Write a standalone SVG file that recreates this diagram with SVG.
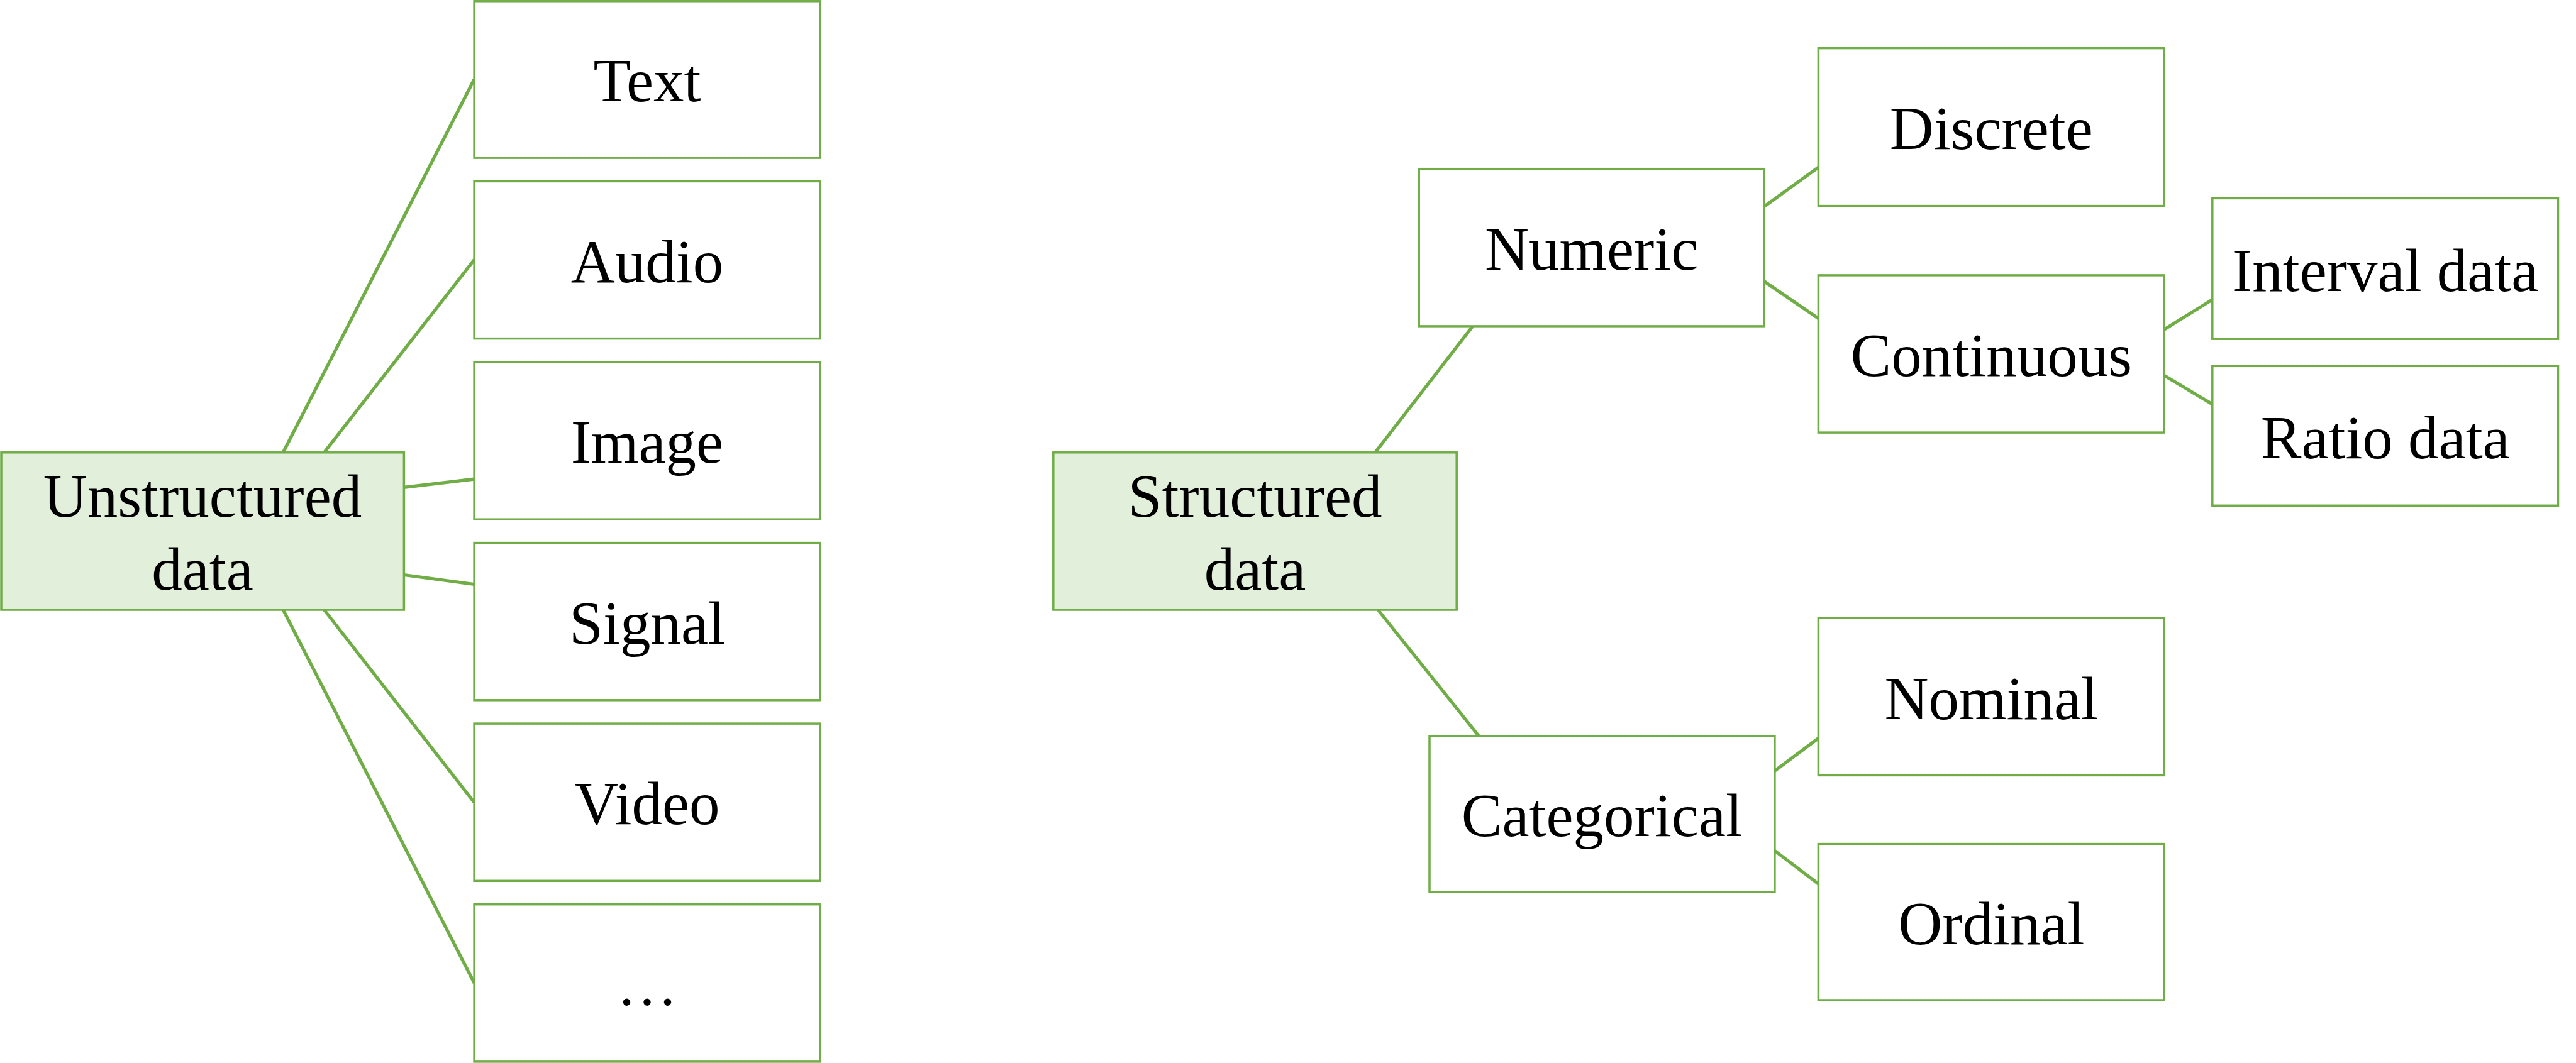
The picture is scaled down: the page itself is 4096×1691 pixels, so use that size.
<svg xmlns="http://www.w3.org/2000/svg" width="4096" height="1691" viewBox="0 0 4096 1691">
<style>
.box{fill:#FFFFFF;stroke:#70AD47;stroke-width:3.5}
.root{fill:#E2EFDA;stroke:#70AD47;stroke-width:3.5}
.lbl{font-family:"Liberation Serif","Times New Roman",serif;font-size:97px;fill:#000000;text-anchor:middle}
.conn line{stroke:#70AD47;stroke-width:5.2;stroke-linecap:butt}
</style>
<rect width="4096" height="1691" fill="#FFFFFF"/>
<g id="connectors" class="conn">
<line x1="450.2" y1="719.8" x2="754.1" y2="126.0"/>
<line x1="515.4" y1="719.8" x2="754.1" y2="413.2"/>
<line x1="642.2" y1="775.3" x2="754.1" y2="762.1"/>
<line x1="642.2" y1="914.5" x2="754.1" y2="929.5"/>
<line x1="515.4" y1="970.0" x2="754.1" y2="1276.6"/>
<line x1="450.2" y1="970.0" x2="754.1" y2="1563.8"/>
<line x1="2186.6" y1="719.8" x2="2341.7" y2="518.9"/>
<line x1="2191.0" y1="970.0" x2="2351.4" y2="1170.8"/>
<line x1="2805.1" y1="328.6" x2="2891.4" y2="266.1"/>
<line x1="2805.1" y1="447.5" x2="2891.4" y2="506.6"/>
<line x1="3441.2" y1="524.2" x2="3517.8" y2="476.6"/>
<line x1="3441.2" y1="597.3" x2="3517.8" y2="643.1"/>
<line x1="2821.8" y1="1226.4" x2="2891.4" y2="1174.4"/>
<line x1="2821.8" y1="1353.2" x2="2891.4" y2="1406.1"/>
</g>
<g id="unstructured">
<rect class="root" x="2" y="719.8" width="640.4" height="250.2"/>
<text class="lbl" x="322" y="822">Unstructured</text>
<text class="lbl" x="322" y="938.3">data</text>
</g>
<g id="text">
<rect class="box" x="754.1" y="1.8" width="549.7" height="249.3"/>
<text class="lbl" x="1029" y="161.2">Text</text>
</g>
<g id="audio">
<rect class="box" x="754.1" y="288.4" width="549.7" height="250.2"/>
<text class="lbl" x="1029" y="448.7">Audio</text>
</g>
<g id="image">
<rect class="box" x="754.1" y="576.0" width="549.7" height="250.2"/>
<text class="lbl" x="1029" y="736.3">Image</text>
</g>
<g id="signal">
<rect class="box" x="754.1" y="863.6" width="549.7" height="250.2"/>
<text class="lbl" x="1029" y="1023.9">Signal</text>
</g>
<g id="video">
<rect class="box" x="754.1" y="1151.1" width="549.7" height="250.2"/>
<text class="lbl" x="1029" y="1311.4">Video</text>
</g>
<g id="more">
<rect class="box" x="754.1" y="1438.7" width="549.7" height="250.2"/>
<text class="lbl" x="1029" y="1599">…</text>
</g>
<g id="structured">
<rect class="root" x="1674.8" y="719.8" width="641.4" height="250.2"/>
<text class="lbl" x="1995.5" y="822">Structured</text>
<text class="lbl" x="1995.5" y="938.3">data</text>
</g>
<g id="numeric">
<rect class="box" x="2256.2" y="268.7" width="548.9" height="250.2"/>
<text class="lbl" x="2530.7" y="429">Numeric</text>
</g>
<g id="discrete">
<rect class="box" x="2891.4" y="76.6" width="549.7" height="251"/>
<text class="lbl" x="3166.3" y="237.4">Discrete</text>
</g>
<g id="continuous">
<rect class="box" x="2891.4" y="437.9" width="549.7" height="250.2"/>
<text class="lbl" x="3166.3" y="598.2">Continuous</text>
</g>
<g id="interval">
<rect class="box" x="3517.8" y="315.4" width="549.7" height="223.8"/>
<text class="lbl" x="3792.7" y="462.5">Interval data</text>
</g>
<g id="ratio">
<rect class="box" x="3517.8" y="582.3" width="549.7" height="222"/>
<text class="lbl" x="3792.7" y="728.6">Ratio data</text>
</g>
<g id="categorical">
<rect class="box" x="2273" y="1170.8" width="548.9" height="248.4"/>
<text class="lbl" x="2547.4" y="1330">Categorical</text>
</g>
<g id="nominal">
<rect class="box" x="2891.4" y="983.2" width="549.7" height="250.2"/>
<text class="lbl" x="3166.3" y="1143.5">Nominal</text>
</g>
<g id="ordinal">
<rect class="box" x="2891.4" y="1342.6" width="549.7" height="248.4"/>
<text class="lbl" x="3166.3" y="1502">Ordinal</text>
</g>
</svg>
